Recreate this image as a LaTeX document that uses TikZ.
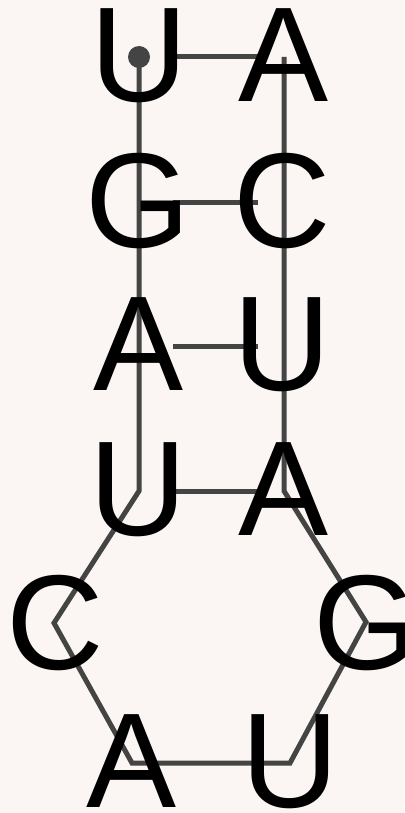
\documentclass[tikz,border=0pt]{standalone}
\usepackage{fontspec}
\setmainfont{Liberation Sans}
\definecolor{bgc}{HTML}{FBF6F3}
\definecolor{linec}{HTML}{444444}
\begin{document}
\begin{tikzpicture}[x=1pt,y=-1pt,
  base/.style={anchor=base,inner sep=0pt,outer sep=0pt,font=\fontsize{135}{135}\selectfont,text=black},
  bb/.style={draw=linec,line width=5pt,line join=miter},
  pair/.style={draw=linec,line width=5pt,shorten <=34pt,shorten >=26pt}]
\fill[bgc] (0,0) rectangle (404,813);
\useasboundingbox (0,0) rectangle (404,813);
% backbone points
\coordinate (p1) at (139,57);
\coordinate (p2) at (139,202);
\coordinate (p3) at (139,346);
\coordinate (p4) at (139,491);
\coordinate (p5) at (54,623);
\coordinate (p6) at (132,763);
\coordinate (p7) at (290,763);
\coordinate (p8) at (366,622);
\coordinate (p9) at (284,491);
\coordinate (p10) at (284,346);
\coordinate (p11) at (284,202);
\coordinate (p12) at (284,57);
\draw[bb] (p1) -- (p2) -- (p3) -- (p4) -- (p5) -- (p6) -- (p7) -- (p8) -- (p9) -- (p10) -- (p11) -- (p12);
\draw[pair] (p1) -- (p12);
\draw[pair] (p2) -- (p11);
\draw[pair] (p3) -- (p10);
\draw[pair] (p4) -- (p9);
\fill[linec] (p1) circle (11pt);
% letters
\node[base] (n1) at (139.5,102) {U};
\node[base] (n2) at (138,247) {G};
\node[base] (n3) at (139,390) {A};
\node[base] (n4) at (138.5,535) {U};
\node[base] (n5) at (55.5,669) {C};
\node[base] (n6) at (131.5,807) {A};
\node[base] (n7) at (290.5,807) {U};
\node[base] (n8) at (366,669) {G};
\node[base] (n9) at (283.5,535) {A};
\node[base] (n10) at (282.5,390) {U};
\node[base] (n11) at (282,247) {C};
\node[base] (n12) at (283.5,102) {A};
\end{tikzpicture}
\end{document}
